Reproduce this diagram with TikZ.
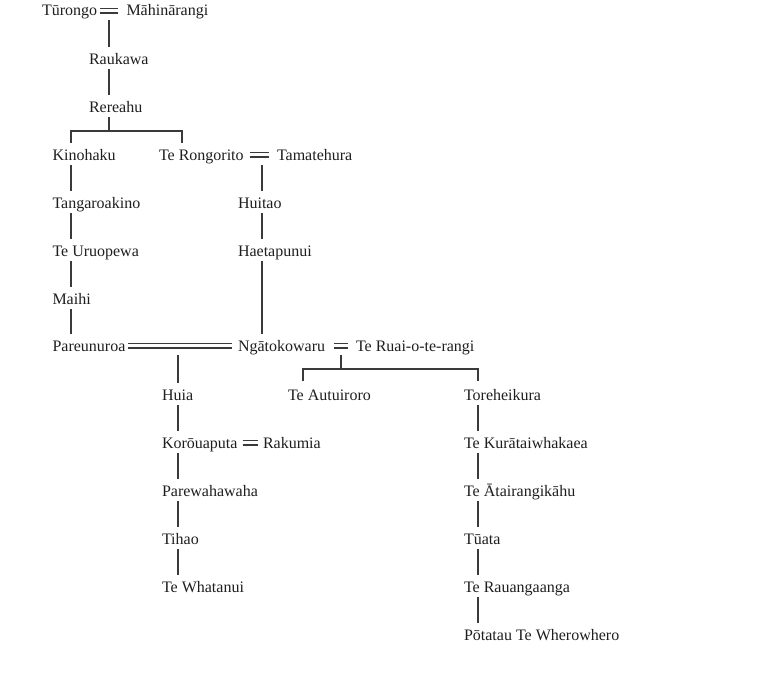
\documentclass[tikz,border=0pt]{standalone}
\usepackage{fontspec}
\setmainfont{Liberation Serif}
\usetikzlibrary{calc}
\definecolor{ink}{HTML}{1E1E1E}
\definecolor{rulec}{HTML}{3A3A3A}
\tikzset{
  person/.style={anchor=base west, inner sep=0pt, outer sep=0pt, text=ink,
                 font=\fontsize{16}{19}\selectfont},
  ln/.style={draw=rulec, line width=1.3pt},
}
% #1,#2 nodes; #3 name of midpoint coordinate; #4 left gap; #5 right gap
\newcommand\marry[5]{%
  \path ($(#1.base east)+(#4,0)$) coordinate (#3L)
        ($(#2.base west)+(-#5,0)$) coordinate (#3R);
  \draw[ln] ($(#3L)+(0,3pt)$) -- ($(#3R)+(0,3pt)$);
  \draw[ln] ($(#3L)+(0,7.5pt)$) -- ($(#3R)+(0,7.5pt)$);
  \coordinate (#3) at ($(#3L)!0.5!(#3R)$);
}
% #1 column coordinate; #2 upper node; #3 lower node
\newcommand\descent[3]{%
  \draw[ln] ($(#1 |- #2.base)+(0,-5pt)$) -- ($(#1 |- #3.base)+(0,17pt)$);
}
\begin{document}
\begin{tikzpicture}[x=1pt,y=-1pt]
\useasboundingbox (0,0) rectangle (770,693);

% people
\node[person] (turongo)      at (42,16)  {Tūrongo};
\node[person] (mahina)       at (126.5,16) {Māhinārangi};
\node[person] (raukawa)      at (89,64)  {Raukawa};
\node[person] (rereahu)      at (89,112) {Rereahu};
\node[person] (kinohaku)     at (52.5,160) {Kinohaku};
\node[person] (rongorito)    at (159,160) {Te Rongorito};
\node[person] (tamatehura)   at (277,160) {Tamatehura};
\node[person] (tangaroakino) at (52.5,208) {Tangaroakino};
\node[person] (huitao)       at (238,208) {Huitao};
\node[person] (uruopewa)     at (52.5,256) {Te Uruopewa};
\node[person] (haetapunui)   at (238,256) {Haetapunui};
\node[person] (maihi)        at (52.5,304) {Maihi};
\node[person] (pareunuroa)   at (52.5,351) {Pareunuroa};
\node[person] (ngatokowaru)  at (238,351) {Ngātokowaru};
\node[person] (ruai)         at (356,351) {Te Ruai-o-te-rangi};
\node[person] (huia)         at (162,400) {Huia};
\node[person] (autuiroro)    at (288,400) {Te Autuiroro};
\node[person] (toreheikura)  at (464,400) {Toreheikura};
\node[person] (korouaputa)   at (162,448) {Korōuaputa};
\node[person] (rakumia)      at (263,448) {Rakumia};
\node[person] (kuratai)      at (464,448) {Te Kurātaiwhakaea};
\node[person] (parewahawaha) at (162,496) {Parewahawaha};
\node[person] (atairangi)    at (464,496) {Te Ātairangikāhu};
\node[person] (tihao)        at (162,544) {Tihao};
\node[person] (tuata)        at (464,544) {Tūata};
\node[person] (whatanui)     at (162,592) {Te Whatanui};
\node[person] (rauangaanga)  at (464,592) {Te Rauangaanga};
\node[person] (potatau)      at (464,640) {Pōtatau Te Wherowhero};

% columns of descent lines
\coordinate (cA)  at ($(raukawa.base west)+(20pt,0)$);
\coordinate (cK)  at ($(kinohaku.base west)+(18.5pt,0)$);
\coordinate (cR)  at ($(rongorito.base west)+(23pt,0)$);
\coordinate (cN)  at ($(huitao.base west)+(24pt,0)$);
\coordinate (cH)  at ($(huia.base west)+(16pt,0)$);
\coordinate (cAu) at ($(autuiroro.base west)+(15pt,0)$);
\coordinate (cT)  at ($(toreheikura.base west)+(14pt,0)$);

% marriages
\marry{turongo}{mahina}{m1}{3pt}{9pt}
\marry{rongorito}{tamatehura}{m2}{6pt}{8pt}
\marry{pareunuroa}{ngatokowaru}{m3}{3pt}{6pt}
\marry{ngatokowaru}{ruai}{m4}{9pt}{8pt}
\marry{korouaputa}{rakumia}{m5}{5pt}{5pt}

% Turongo = Mahinarangi -> Raukawa -> Rereahu
\draw[ln] ($(cA |- m1)+(0,-4pt)$) -- ($(cA |- raukawa.base)+(0,17pt)$);
\descent{cA}{raukawa}{rereahu}

% Rereahu -> Kinohaku, Te Rongorito
\coordinate (fy1) at ($(cA |- rereahu.base)+(0,-19pt)$);
\draw[ln] ($(cA |- rereahu.base)+(0,-5pt)$) -- (fy1);
\draw[ln] ($(cK |- kinohaku.base)+(0,17pt)$) |- (fy1) -| ($(cR |- rongorito.base)+(0,17pt)$);

% Kinohaku line
\descent{cK}{kinohaku}{tangaroakino}
\descent{cK}{tangaroakino}{uruopewa}
\descent{cK}{uruopewa}{maihi}
\descent{cK}{maihi}{pareunuroa}

% Te Rongorito = Tamatehura line
\draw[ln] ($(cN |- m2)+(0,-5pt)$) -- ($(cN |- huitao.base)+(0,17pt)$);
\descent{cN}{huitao}{haetapunui}
\descent{cN}{haetapunui}{ngatokowaru}

% Pareunuroa = Ngatokowaru -> Huia line
\draw[ln] ($(cH |- m3)+(0,-4pt)$) -- ($(cH |- huia.base)+(0,17pt)$);
\descent{cH}{huia}{korouaputa}
\descent{cH}{korouaputa}{parewahawaha}
\descent{cH}{parewahawaha}{tihao}
\descent{cH}{tihao}{whatanui}

% Ngatokowaru = Te Ruai-o-te-rangi -> Te Autuiroro, Toreheikura
\coordinate (fy2) at ($(m4)+(0,-18pt)$);
\draw[ln] ($(m4)+(0,-4pt)$) -- (fy2);
\draw[ln] ($(cAu |- autuiroro.base)+(0,19pt)$) |- (fy2) -| ($(cT |- toreheikura.base)+(0,19pt)$);

% Toreheikura line
\descent{cT}{toreheikura}{kuratai}
\descent{cT}{kuratai}{atairangi}
\descent{cT}{atairangi}{tuata}
\descent{cT}{tuata}{rauangaanga}
\descent{cT}{rauangaanga}{potatau}
\end{tikzpicture}
\end{document}
